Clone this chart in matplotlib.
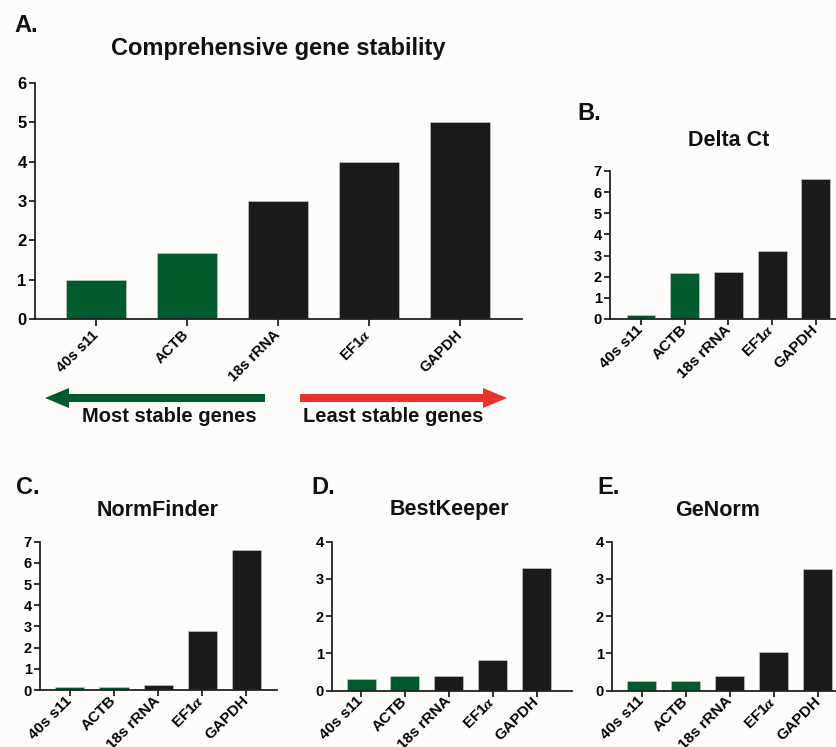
import matplotlib
matplotlib.use("Agg")
import matplotlib.pyplot as plt
from matplotlib.patches import FancyArrow

plt.rcParams['font.family'] = ['Liberation Sans', 'DejaVu Sans']
plt.rcParams['font.weight'] = 'bold'
plt.rcParams['mathtext.fontset'] = 'stix'

genes = ['40s s11', 'ACTB', '18s rRNA', 'EF1$\\alpha$', 'GAPDH']
comprehensive = [1.0, 1.67, 3.0, 4.0, 5.0]
delta_ct = [0.17, 2.16, 2.22, 3.22, 6.6]
normfinder = [0.15, 0.15, 0.25, 2.77, 6.6]
bestkeeper = [0.31, 0.39, 0.39, 0.82, 3.29]
genorm = [0.26, 0.26, 0.4, 1.05, 3.28]

GREEN = '#005a2c'
BLACK = '#1a1a1a'
RED = '#e8322b'
bar_colors = [GREEN, GREEN, BLACK, BLACK, BLACK]

W, H = 837, 747
fig = plt.figure(figsize=(W / 100, H / 100), dpi=100, facecolor='#fdfcfa')


def px_axes(left, right, bottom, top):
    # axes placed by pixel edges of the reference
    return fig.add_axes([left / W, 1 - bottom / H, (right - left) / W, (bottom - top) / H])


def bar_panel(ax, vals, ymax, xlim, tick_fs, ytick_fs):
    ax.set_facecolor('none')
    x = range(len(genes))
    ax.bar(x, vals, width=0.66, color=bar_colors, edgecolor='#cfcfcf', linewidth=0.4)
    ax.set_ylim(0, ymax)
    ax.set_xlim(*xlim)
    ax.set_yticks(range(0, ymax + 1))
    ax.set_xticks(list(x))
    ax.set_xticklabels(genes, rotation=45, ha='right', va='center',
                       rotation_mode='anchor', fontsize=tick_fs, fontweight='bold')
    for lab in ax.get_yticklabels():
        lab.set_fontsize(ytick_fs)
        lab.set_fontweight('bold')
    for s in ['top', 'right']:
        ax.spines[s].set_visible(False)
    for s in ['left', 'bottom']:
        ax.spines[s].set_linewidth(1.3)
        ax.spines[s].set_color('#222222')
    ax.tick_params(length=4, width=1.3, color='#222222', pad=2)


# A
axA = px_axes(35, 522, 319, 83)
bar_panel(axA, comprehensive, 6, (-0.67, 4.68), 10.5, 12)
axA.tick_params(axis='x', length=5, pad=5)

# B
axB = px_axes(610, 836, 319, 171)
bar_panel(axB, delta_ct, 7, (-0.71, 4.46), 11, 10.5)

# C
axC = px_axes(40, 277, 690, 541.7)
bar_panel(axC, normfinder, 7, (-0.68, 4.7), 11, 10.5)

# D
axD = px_axes(332, 572, 690.7, 541.7)
bar_panel(axD, bestkeeper, 4, (-0.66, 4.8), 11, 10.5)

# E
axE = px_axes(612, 836, 690.7, 541.7)
bar_panel(axE, genorm, 4, (-0.68, 4.41), 11, 10.5)

# overlay for titles, letters and arrows (pixel coordinates)
ov = fig.add_axes([0, 0, 1, 1])
ov.set_xlim(0, W)
ov.set_ylim(H, 0)
ov.axis('off')
ov.set_facecolor('none')

letters = [('A.', 14, 25), ('B.', 577, 114), ('C.', 16, 487), ('D.', 311, 487), ('E.', 597, 487)]
for t, x, y in letters:
    ov.text(x, y, t, fontsize=17, fontweight='bold', va='center', ha='left', color='#111111')

titles = [('Comprehensive gene stability', 278, 48, 17),
          ('Delta Ct', 729, 141, 15.5),
          ('NormFinder', 158, 510, 15.5),
          ('BestKeeper', 449, 510, 15.5),
          ('GeNorm', 718, 510, 15.5)]
for t, x, y, fs in titles:
    ov.text(x, y, t, fontsize=fs, fontweight='bold', va='center', ha='center', color='#111111')

ov.add_patch(FancyArrow(265, 398, -220, 0, width=8, head_width=20, head_length=24,
                        length_includes_head=True, color=GREEN, lw=0))
ov.add_patch(FancyArrow(300, 398, 207, 0, width=8, head_width=20, head_length=24,
                        length_includes_head=True, color=RED, lw=0))
ov.text(169, 417, 'Most stable genes', fontsize=14.5, fontweight='bold', ha='center', va='center', color='#111111')
ov.text(393, 417, 'Least stable genes', fontsize=14.5, fontweight='bold', ha='center', va='center', color='#111111')

fig.savefig('out.png', dpi=100, facecolor=fig.get_facecolor())
